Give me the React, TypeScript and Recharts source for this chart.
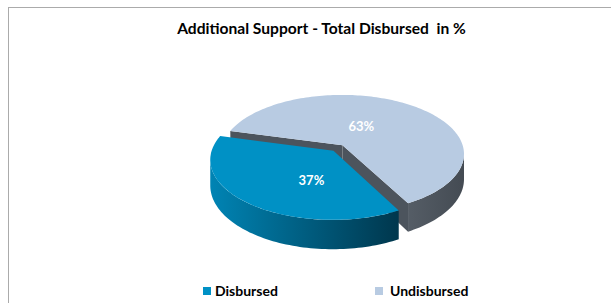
import React from 'react';
import { PieChart, Pie, Legend } from 'recharts';

// ---------- data ----------
const categories = ['Undisbursed', 'Disbursed'];
const values = [63, 37];
const legendOrder = ['Disbursed', 'Undisbursed'];
const titleText = 'Additional Support - Total Disbursed  in %';

// ---------- styles ----------
const COLORS: Record<string, { top: string; sideL: string; sideR: string; cut: string }> = {
  Disbursed: { top: '#0091C5', sideL: '#0084B4', sideR: '#00374D', cut: '#00374D' },
  Undisbursed: { top: '#B8CBE2', sideL: '#555D66', sideR: '#444B53', cut: '#4C545D' },
};
const FONT = 'Lato, "Open Sans", "DejaVu Sans", sans-serif';

const data = categories.map((name, i) => ({ name, value: values[i], fill: COLORS[name].top }));

// ---------- 3D projection helpers ----------
const K = 0.143; // perspective factor
const RYF = 0.482; // vertical squash
const DEPTH = 25; // thickness px
const EXP = 0.06; // explosion (in radius units)
const SIL = (Math.asin(K) * 180) / Math.PI;

const rad = (d: number) => (d * Math.PI) / 180;
const project = (cx: number, cy: number, R: number, u: number, v: number, dz = 0): [number, number] => {
  const w = 1 + K * v;
  return [cx + (R * u) / w, cy - (R * RYF * v) / w + dz / w];
};

const Sector3D = (props: any) => {
  const { cx, cy, outerRadius, midAngle } = props;
  const name: string = props.payload?.name ?? props.name;
  const c = COLORS[name] || COLORS.Disbursed;
  const a = Math.min(props.startAngle, props.endAngle);
  const b = Math.max(props.startAngle, props.endAngle);
  const R = outerRadius;
  const m = rad(midAngle);
  const ou = EXP * Math.cos(m);
  const ov = EXP * Math.sin(m);
  const P = (t: number, dz = 0) => project(cx, cy, R, ou + Math.cos(rad(t)), ov + Math.sin(rad(t)), dz);
  const apex = (dz = 0) => project(cx, cy, R, ou, ov, dz);
  const arc = (t0: number, t1: number, dz = 0) => {
    const n = Math.max(2, Math.ceil(Math.abs(t1 - t0) / 1.5));
    const pts: [number, number][] = [];
    for (let i = 0; i <= n; i++) pts.push(P(t0 + ((t1 - t0) * i) / n, dz));
    return pts;
  };
  const toPath = (pts: [number, number][]) =>
    'M' + pts.map((p) => `${p[0].toFixed(2)},${p[1].toFixed(2)}`).join('L') + 'Z';

  const parts: React.ReactNode[] = [];
  const gid = `grad-${name}`;
  // cut walls
  const startNormal = a - 90;
  const endNormal = b + 90;
  if (Math.sin(rad(startNormal)) < 0) {
    parts.push(<path key="cs" d={toPath([apex(), P(a), P(a, DEPTH), apex(DEPTH)])} fill={c.cut} />);
  }
  if (Math.sin(rad(endNormal)) < 0) {
    parts.push(<path key="ce" d={toPath([apex(), P(b), P(b, DEPTH), apex(DEPTH)])} fill={c.cut} />);
  }
  // outer wall (visible front part)
  for (let k = Math.floor(a / 360) - 1; k <= Math.floor(b / 360) + 1; k++) {
    const v0 = 180 + SIL + 360 * k;
    const v1 = 360 - SIL + 360 * k;
    const t0 = Math.max(a, v0);
    const t1 = Math.min(b, v1);
    if (t1 > t0) {
      const top = arc(t0, t1);
      const bot = arc(t0, t1, DEPTH).reverse();
      parts.push(<path key={'w' + k} d={toPath([...top, ...bot])} fill={`url(#${gid})`} />);
    }
  }
  // top face
  parts.push(<path key="top" d={toPath([apex(), ...arc(a, b)])} fill={c.top} />);
  return (
    <g>
      <defs>
        <linearGradient id={gid} x1="0" y1="0" x2="1" y2="0">
          <stop offset="0" stopColor={c.sideL} />
          <stop offset="1" stopColor={c.sideR} />
        </linearGradient>
      </defs>
      {parts}
    </g>
  );
};

const renderLabel = (p: any) => {
  const m = rad(p.midAngle);
  const ou = EXP * Math.cos(m);
  const ov = EXP * Math.sin(m);
  const [x, y] = project(p.cx, p.cy, p.outerRadius, ou + 0.27 * Math.cos(m), ov + 0.53 * Math.sin(m));
  return (
    <text x={x} y={y + 3} fill="#FFFFFF" textAnchor="middle" dominantBaseline="central" fontWeight={700} fontSize={13} fontFamily={FONT}>
      {`${Math.round(p.percent * 100)}%`}
    </text>
  );
};

const legendX: Record<string, { sq: number; tx: number }> = {
  Disbursed: { sq: 203, tx: 215 },
  Undisbursed: { sq: 375, tx: 390 },
};

const renderLegend = () => (
  <div style={{ position: 'relative', width: 611, height: 20 }}>
    {legendOrder.map((n) => (
      <React.Fragment key={n}>
        <span
          style={{ position: 'absolute', left: legendX[n].sq, top: 6, width: 8, height: 8, background: COLORS[n].top }}
        />
        <span
          style={{ position: 'absolute', left: legendX[n].tx, top: 1, fontFamily: FONT, fontWeight: 700, fontSize: 14, color: '#000', lineHeight: '18px', whiteSpace: 'nowrap' }}
        >
          {n}
        </span>
      </React.Fragment>
    ))}
  </div>
);

export default function App() {
  return (
    <div style={{ position: 'fixed', left: 0, top: 0, width: 611, height: 303, overflow: 'hidden', background: '#fff' }}>
      <div style={{ position: 'absolute', left: 8, top: 7, width: 640, height: 340, border: '1px solid #ababab', boxSizing: 'border-box' }} />
      <div
        style={{ position: 'absolute', left: 0, top: 19, width: 643, textAlign: 'center', fontFamily: FONT, fontWeight: 700, fontSize: 15.6, color: '#000', whiteSpace: 'pre' }}
      >
        {titleText}
      </div>
      <div style={{ position: 'absolute', left: 0, top: 0 }}>
        <PieChart width={611} height={303} margin={{ top: 0, right: 0, bottom: 0, left: 0 }}>
          <Pie
            data={data}
            dataKey="value"
            nameKey="name"
            cx={338}
            cy={148}
            outerRadius={121}
            startAngle={298.2}
            endAngle={658.2}
            stroke="none"
            isAnimationActive={false}
            shape={Sector3D}
            activeShape={Sector3D}
            inactiveShape={Sector3D}
            label={renderLabel}
            labelLine={false}
          />
          <Legend content={renderLegend} wrapperStyle={{ position: 'absolute', left: 0, top: 281, width: 611, height: 20 }} />
        </PieChart>
      </div>
    </div>
  );
}
